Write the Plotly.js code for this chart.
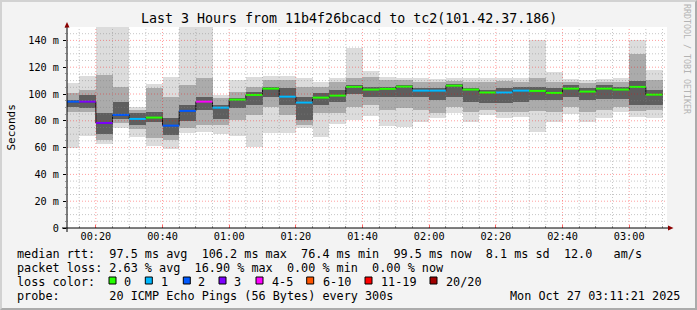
<!DOCTYPE html>
<html><head><meta charset="utf-8">
<script src="https://cdn.plot.ly/plotly-3.0.1.min.js"></script>
<style>
html,body{margin:0;padding:0;background:#f3f3f3;overflow:hidden;}
#wrap{position:relative;width:697px;height:310px;}
#chart{width:697px;height:310px;}
#frame{position:absolute;left:0;top:0;width:697px;height:310px;box-sizing:border-box;border-top:2px solid #d2d2d2;border-left:2px solid #d2d2d2;border-right:2px solid #ababab;border-bottom:2px solid #ababab;pointer-events:none;}
</style></head><body>
<div id="wrap"><div id="chart"></div><div id="frame"></div></div>
<script>
// ---- data (ms) ----
const stepStart = ['00:10','00:15','00:20','00:25','00:30','00:35','00:40','00:45','00:50','00:55',
  '01:00','01:05','01:10','01:15','01:20','01:25','01:30','01:35','01:40','01:45','01:50','01:55',
  '02:00','02:05','02:10','02:15','02:20','02:25','02:30','02:35','02:40','02:45','02:50','02:55',
  '03:00','03:05'];
const rttMin = [60,68.9,62.5,75,68.2,61.5,59,70.8,72,70,68.9,60.7,70.7,70.7,74.5,68.2,77.4,80.7,83.9,76.4,75.7,79.4,81.9,85.6,79.4,84.4,82.4,83.1,72,79.4,84.9,78.9,82.4,86.4,83.1,82.4];
const rttLo1 = [86.4,86.9,65.7,78,74.2,67,66,75,77,77,80.7,84.4,90.6,84.4,76.9,85.6,85.6,90,91.9,88.1,89.4,88.1,85.6,90.6,86.9,88.1,86.4,86.4,87.4,86.9,90.6,86.9,88.1,90.6,87,88.1];
const rttLo2 = [90.6,89.4,70,81,76.9,78.9,69.5,80,88,81,89.4,91.9,98,91.9,80.7,91.9,94.3,100,98,98,98,98,95.8,98,93.8,93.1,93,94.3,95.8,95.8,98,95.8,96.6,96.6,92,91.9];
const rttMedian = [94.3,94.3,78.4,84.4,81.4,82.4,76.4,87.4,94.3,89.8,95.8,99.3,104,98,93.6,97.3,98.8,105.3,103.3,103.8,105.5,102.5,102.5,106.2,103.3,101.1,101.1,102.5,102.3,100.8,104,101.8,104,103.3,105.3,99.5];
const rttHi2 = [95.4,99.3,86,94,85.6,86.4,82,92,98,92,97.3,101.8,105.5,104.3,98,100.5,103,106.8,105.5,105.5,106.8,104.3,104.3,107.5,104.3,103,104.3,105.5,105.5,104.3,106.8,104.3,106.8,105.5,110,103];
const rttHi1 = [100.6,103,114,105.5,88,104.3,98,106.8,112,97,101.8,105.5,110.5,110.5,105.5,105.5,109.3,111.8,113,110.5,110.5,109.3,109.3,109.8,109.3,109.3,109.8,109.3,111.8,109.3,109.3,108,109.3,109,130,110.5];
const rttMax = [108,113.7,150,150,90.6,107.3,113,150,150,99.5,110.5,113,113.5,113.5,111.8,109.3,111.8,134.7,117.5,113,112.3,111.8,111.3,112.3,111.8,111.8,112.3,111.8,140.4,116.3,111,110.5,111,111.8,140.4,118];
const lossIdx = [2,3,3,2,1,0,2,2,4,1,0,0,0,1,1,0,0,0,0,0,0,1,1,0,0,0,1,1,0,0,0,0,0,0,0,0];
const lossLabels = ['0','1','2','3','4-5','6-10','11-19','20/20'];
const lossColors = ['#26ff00','#00b8ff','#0059ff','#7e00ff','#ff00ff','#ff5500','#ff0000','#a10000'];
const yTickVals = [0,20,40,60,80,100,120,140];
const yTickText = ['0','20 m','40 m','60 m','80 m','100 m','120 m','140 m'];
const legendLines = [
  'median rtt:  97.5 ms avg  106.2 ms max  76.4 ms min  99.5 ms now  8.1 ms sd  12.0   am/s',
  'packet loss: 2.63 % avg  16.90 % max  0.00 % min  0.00 % now',
  'loss color:',
  'probe:       20 ICMP Echo Pings (56 Bytes) every 300s'
];
const dateText = 'Mon Oct 27 03:11:21 2025';
const titleText = 'Last 3 Hours from 11b4f26bcacd to tc2(101.42.37.186)';

// ---- helpers ----
const STEP = 300000;
function tms(hhmm, sec){ const [h,m]=hhmm.split(':').map(Number); return Date.UTC(2025,9,27,h,m,sec||0); }
const L=67, T=27, W=600, H=201;
const px = x => (x-L)/W;
const py = y => (T+H-y)/H;
const FONT = 'DejaVu Sans Mono';

const starts = stepStart.map(s=>tms(s));
const centers = starts.map(s=>s+STEP/2);

function band(lo, hi, color){
  return {type:'bar', x:centers, base:lo, y:hi.map((v,i)=>v-lo[i]), width:STEP,
    marker:{color:color, line:{width:0}}, hoverinfo:'skip', showlegend:false};
}
const traces = [
  band(rttMin, rttMax, '#dcdcdc'),
  band(rttLo1, rttHi1, '#ababab'),
  band(rttLo2, rttHi2, '#5e5e5e')
];
// median step line
const mx = starts.concat([starts[starts.length-1]+STEP]);
const my = rttMedian.concat([rttMedian[rttMedian.length-1]]);
traces.push({type:'scatter', mode:'lines', x:mx, y:my, line:{shape:'hv', color:'#111', width:1}, hoverinfo:'skip', showlegend:false});
// coloured median segments per loss class
lossColors.forEach((c,k)=>{
  const xs=[], ys=[];
  lossIdx.forEach((li,i)=>{ if(li===k){ xs.push(starts[i], starts[i]+STEP, null); ys.push(rttMedian[i], rttMedian[i], null);} });
  if(xs.length) traces.push({type:'scatter', mode:'lines', x:xs, y:ys, line:{color:c, width:2}, hoverinfo:'skip', showlegend:false});
});

// ---- grid shapes (drawn above smoke, like rrdtool) ----
const shapes = [];
const minorC = 'rgba(130,130,130,0.45)', majorC = 'rgba(255,0,0,0.38)';
for(let t=tms('00:15'); t<=tms('03:10'); t+=STEP){
  const mins = Math.round((t - tms('00:00'))/60000);
  shapes.push({type:'line', xref:'x', yref:'paper', x0:t, x1:t, y0:0, y1:1, layer:'above',
    line:{color: mins%20===0?majorC:minorC, width:1, dash:'1px,2px'}});
}
for(let v=5; v<150; v+=5){
  shapes.push({type:'line', xref:'paper', yref:'y', x0:0, x1:1, y0:v, y1:v, layer:'above',
    line:{color: v%20===0?majorC:minorC, width:1, dash:'1px,2px'}});
}
// axes + arrows
shapes.push({type:'line', xref:'paper', yref:'paper', x0:px(62), x1:px(669), y0:0, y1:0, layer:'above', line:{color:'#000', width:1}});
shapes.push({type:'line', xref:'paper', yref:'paper', x0:0, x1:0, y0:py(232), y1:1, layer:'above', line:{color:'#000', width:1}});
shapes.push({type:'path', xref:'paper', yref:'paper', layer:'above',
  path:`M ${px(668)} ${py(225.5)} L ${px(673.5)} ${py(228)} L ${px(668)} ${py(230.5)} Z`, fillcolor:'#8b0000', line:{width:0}});
shapes.push({type:'path', xref:'paper', yref:'paper', layer:'above',
  path:`M ${px(64.5)} ${py(27.5)} L ${px(67)} ${py(22)} L ${px(69.5)} ${py(27.5)} Z`, fillcolor:'#8b0000', line:{width:0}});

// loss colour legend squares
const sqX = [109,145.3,183.3,219,256,306.7,365,430];
const lbX = [122.7,160,197.3,233.3,270.7,321.7,380,445];
sqX.forEach((x,i)=>{
  shapes.push({type:'rect', xref:'paper', yref:'paper', x0:px(x), x1:px(x+7), y0:py(284), y1:py(277),
    fillcolor:lossColors[i], line:{color:'#000', width:1}});
});

// ---- annotations ----
const ann = [];
function txt(text, x, y, size, opts){
  ann.push(Object.assign({text:text, xref:'paper', yref:'paper', x:px(x), y:py(y), showarrow:false,
    xanchor:'left', yanchor:'middle', font:{family:FONT, size:size, color:'#000'}, borderpad:0}, opts||{}));
}
txt(titleText, 348.5, 19, 13.3, {xanchor:'center'});
txt('Seconds', 11, 127.5, 11, {xanchor:'center', textangle:-90});
txt('RRDTOOL / TOBI OETIKER', 687, 59, 8.3, {xanchor:'center', textangle:90, font:{family:FONT, size:8.3, color:'#b3b3b3'}});
const rowY = [254.3, 268.3, 282.3, 296.2];
legendLines.forEach((s,i)=> txt(s, 15.6, rowY[i], 11.8));
lossLabels.forEach((s,i)=> txt(s, lbX[i], rowY[2], 11.8));
txt(dateText, 680.5, rowY[3], 11.8, {xanchor:'right'});

const layout = {
  width:697, height:310,
  margin:{l:L, r:697-L-W, t:T, b:310-T-H, pad:0},
  paper_bgcolor:'#f3f3f3', plot_bgcolor:'#ffffff',
  barmode:'overlay', bargap:0, showlegend:false,
  xaxis:{type:'date', range:[tms('00:11',21), tms('03:11',21)], tick0:tms('00:00'), dtick:1200000,
    tickformat:'%H:%M', ticks:'inside', ticklen:3, tickcolor:'rgba(255,0,0,0.6)', showgrid:false, zeroline:false,
    showline:false, tickfont:{family:FONT, size:10.2, color:'#000'}, ticklabelstandoff:1,
    minor:{dtick:STEP, ticks:'inside', ticklen:2, tickcolor:'#999', showgrid:false}, fixedrange:true},
  yaxis:{range:[0,150], tickvals:yTickVals, ticktext:yTickText, ticks:'outside', ticklen:3, tickcolor:'#000',
    showgrid:false, zeroline:false, showline:false, tickfont:{family:FONT, size:10.2, color:'#000'}, ticklabelstandoff:2,
    minor:{dtick:5, ticks:'outside', ticklen:1, tickcolor:'#999', showgrid:false}, fixedrange:true},
  shapes:shapes, annotations:ann
};
Plotly.newPlot('chart', traces, layout, {staticPlot:true, displayModeBar:false});
</script>
</body></html>
